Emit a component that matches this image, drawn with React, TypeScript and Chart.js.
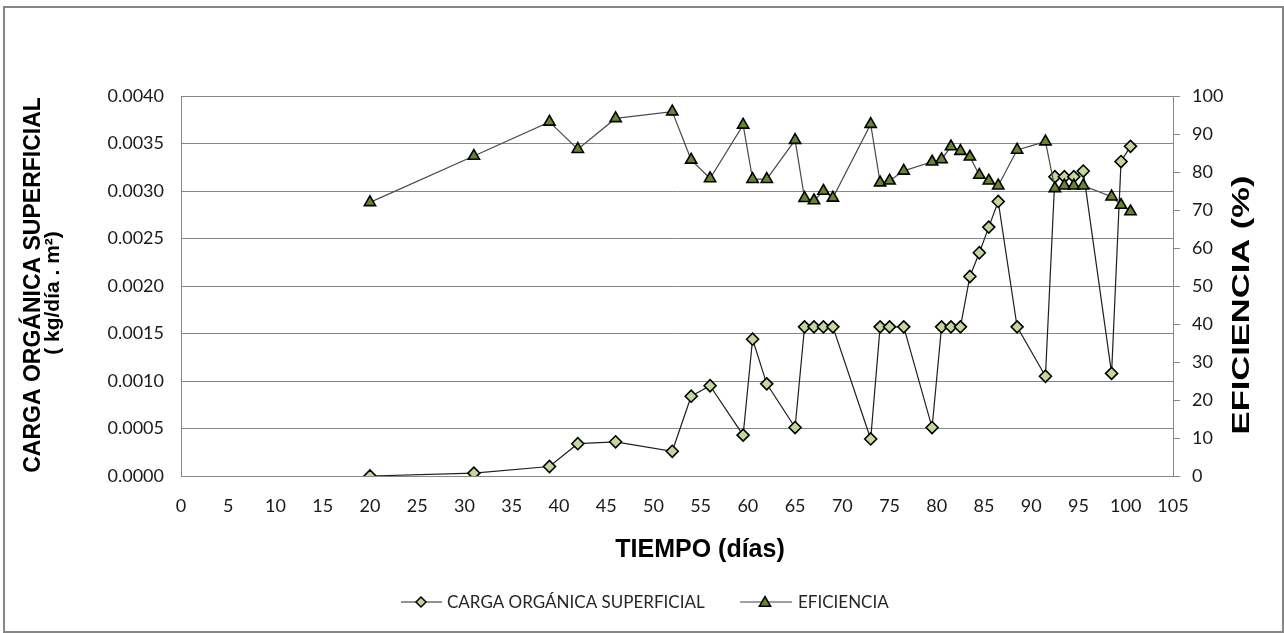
import { useEffect, useRef } from "react";
import { Chart, registerables } from "chart.js";

Chart.register(...registerables);

// ---- data ----
const days = [20, 31, 39, 42, 46, 52, 54, 56, 59.5, 60.5, 62, 65, 66, 67, 68, 69, 73, 74, 75, 76.5, 79.5, 80.5, 81.5, 82.5, 83.5, 84.5, 85.5, 86.5, 88.5, 91.5, 92.5, 93.5, 94.5, 95.5, 98.5, 99.5, 100.5];
const carga = [0.0, 0.00003, 0.0001, 0.00034, 0.00036, 0.00026, 0.00084, 0.00095, 0.00043, 0.00144, 0.00097, 0.00051, 0.00157, 0.00157, 0.00157, 0.00157, 0.00039, 0.00157, 0.00157, 0.00157, 0.00051, 0.00157, 0.00157, 0.00157, 0.0021, 0.00235, 0.00262, 0.00289, 0.00157, 0.00105, 0.00315, 0.00315, 0.00315, 0.00321, 0.00108, 0.00331, 0.00347];
const eficiencia = [72, 84.2, 93.2, 86, 94.1, 95.9, 83.2, 78.3, 92.4, 78.1, 78.1, 88.4, 73.1, 72.5, 75, 73.2, 92.6, 77.2, 77.7, 80.3, 82.7, 83.3, 86.7, 85.5, 84, 79.2, 77.7, 76.4, 85.8, 88, 75.7, 76.4, 76.4, 76.4, 73.5, 71.3, 69.6];

const xRange = [0, 105];
const xStep = 5;
const cargaRange = [0, 0.004];
const cargaStep = 0.0005;
const efRange = [0, 100];
const efStep = 10;

const seriesNames = ["CARGA ORGÁNICA SUPERFICIAL", "EFICIENCIA"];
const xTitle = "TIEMPO (días)";
const yTitleLines = ["CARGA ORGÁNICA SUPERFICIAL", "( kg/día . m²)"];
const y1Title = "EFICIENCIA (%)";

// ---- layout / style ----
const W = 1284;
const H = 633;
const AREA = { left: 181, right: 1173, top: 96, bottom: 476 };
const GRID = "#868686";
const DIAMOND_FILL = "#C3D69B";
const TRI_FILL = "#67852C";
const TICK_FONT = { family: "Lato", size: 18 };
const TICK_COLOR = "#1a1a1a";

function drawDiamond(ctx: CanvasRenderingContext2D, x: number, y: number, r: number) {
  ctx.beginPath();
  ctx.moveTo(x, y - r);
  ctx.lineTo(x + r, y);
  ctx.lineTo(x, y + r);
  ctx.lineTo(x - r, y);
  ctx.closePath();
  ctx.fillStyle = DIAMOND_FILL;
  ctx.fill();
  ctx.lineWidth = 1.5;
  ctx.strokeStyle = "#000";
  ctx.stroke();
}

function drawTriangle(ctx: CanvasRenderingContext2D, x: number, y: number, r: number) {
  const h = r * 1.5;
  const half = r * Math.sin(Math.PI / 3);
  ctx.beginPath();
  ctx.moveTo(x, y - r);
  ctx.lineTo(x + half, y - r + h);
  ctx.lineTo(x - half, y - r + h);
  ctx.closePath();
  ctx.fillStyle = TRI_FILL;
  ctx.fill();
  ctx.lineWidth = 1.5;
  ctx.strokeStyle = "#000";
  ctx.stroke();
}

const decorPlugin = {
  id: "decor",
  afterDraw(chart: any) {
    const ctx: CanvasRenderingContext2D = chart.ctx;
    ctx.save();
    // outer frame
    ctx.strokeStyle = GRID;
    ctx.lineWidth = 2;
    ctx.strokeRect(4, 7, W - 5, H - 8);

    ctx.fillStyle = "#000";
    ctx.textAlign = "center";
    ctx.textBaseline = "middle";

    // left title (two lines)
    ctx.font = "bold 23px 'Liberation Sans', Arial, sans-serif";
    ctx.save();
    ctx.translate(34, 285);
    ctx.rotate(-Math.PI / 2);
    ctx.fillText(yTitleLines[0], 0, 0);
    ctx.restore();
    ctx.font = "bold 21px 'Liberation Sans', Arial, sans-serif";
    ctx.save();
    ctx.translate(53, 293);
    ctx.rotate(-Math.PI / 2);
    ctx.fillText(yTitleLines[1], 0, 0);
    ctx.restore();

    // right title (stretched lengthwise as in the original)
    ctx.font = "bold 23px 'Liberation Sans', Arial, sans-serif";
    ctx.save();
    ctx.translate(1243, 305);
    ctx.rotate(-Math.PI / 2);
    ctx.scale(1.5, 1);
    ctx.fillText(y1Title, 0, 0);
    ctx.restore();

    // x title
    ctx.font = "bold 25px 'Liberation Sans', Arial, sans-serif";
    ctx.fillText(xTitle, 700, 550);

    // legend
    const ly = 602;
    ctx.font = "17px Lato, sans-serif";
    ctx.textAlign = "left";
    ctx.lineWidth = 1.2;
    ctx.strokeStyle = "#262626";
    ctx.beginPath();
    ctx.moveTo(401, ly);
    ctx.lineTo(442, ly);
    ctx.stroke();
    drawDiamond(ctx, 421, ly, 5);
    ctx.fillStyle = "#262626";
    ctx.fillText(seriesNames[0], 447, ly + 1);

    ctx.strokeStyle = "#404040";
    ctx.lineWidth = 1.2;
    ctx.beginPath();
    ctx.moveTo(740, ly);
    ctx.lineTo(792, ly);
    ctx.stroke();
    drawTriangle(ctx, 765, ly + 1, 6.5);
    ctx.fillStyle = "#262626";
    ctx.fillText(seriesNames[1], 798, ly + 1);
    ctx.restore();
  },
};

export default function App() {
  const ref = useRef<HTMLCanvasElement | null>(null);

  useEffect(() => {
    document.body.style.margin = "0";
    const canvas = ref.current;
    if (!canvas) return;
    const chart = new Chart(canvas, {
      type: "line",
      data: {
        datasets: [
          {
            label: seriesNames[0],
            data: days.map((d, i) => ({ x: d, y: carga[i] })),
            yAxisID: "y",
            borderColor: "#1f1f1f",
            borderWidth: 1.2,
            pointStyle: "rectRot",
            pointRadius: 6,
            pointBackgroundColor: DIAMOND_FILL,
            pointBorderColor: "#000",
            pointBorderWidth: 1.6,
            tension: 0,
            order: 2,
          },
          {
            label: seriesNames[1],
            data: days.map((d, i) => ({ x: d, y: eficiencia[i] })),
            yAxisID: "y1",
            borderColor: "#4a4a4a",
            borderWidth: 1.2,
            pointStyle: "triangle",
            pointRadius: 6.5,
            pointBackgroundColor: TRI_FILL,
            pointBorderColor: "#000",
            pointBorderWidth: 1.6,
            tension: 0,
            order: 1,
          },
        ],
      },
      options: {
        responsive: false,
        animation: false,
        layout: { padding: { left: 0, right: 0, top: AREA.top, bottom: 0 } },
        plugins: {
          legend: { display: false },
          tooltip: { enabled: false },
          title: { display: false },
        },
        scales: {
          x: {
            type: "linear",
            min: xRange[0],
            max: xRange[1],
            ticks: {
              stepSize: xStep,
              autoSkip: false,
              maxRotation: 0,
              padding: 19,
              font: TICK_FONT,
              color: TICK_COLOR,
            },
            grid: { display: false, drawTicks: false },
            border: { display: true, color: GRID, width: 1 },
            afterFit: (s: any) => {
              s.height = H - AREA.bottom;
            },
          },
          y: {
            type: "linear",
            position: "left",
            min: cargaRange[0],
            max: cargaRange[1],
            ticks: {
              stepSize: cargaStep,
              padding: 17,
              font: TICK_FONT,
              color: TICK_COLOR,
              callback: (v: any) => Number(v).toFixed(4),
            },
            grid: { color: GRID, lineWidth: 1, drawTicks: false },
            border: { display: true, color: GRID, width: 1 },
            afterFit: (s: any) => {
              s.width = AREA.left;
            },
          },
          y1: {
            type: "linear",
            position: "right",
            min: efRange[0],
            max: efRange[1],
            ticks: {
              stepSize: efStep,
              padding: 12,
              font: TICK_FONT,
              color: TICK_COLOR,
            },
            grid: { drawOnChartArea: false, drawTicks: true, tickLength: 7, color: GRID },
            border: { display: true, color: GRID, width: 1 },
            afterFit: (s: any) => {
              s.width = W - AREA.right;
            },
          },
        },
      },
      plugins: [decorPlugin],
    });
    return () => chart.destroy();
  }, []);

  return <canvas ref={ref} width={W} height={H} style={{ display: "block" }} />;
}
